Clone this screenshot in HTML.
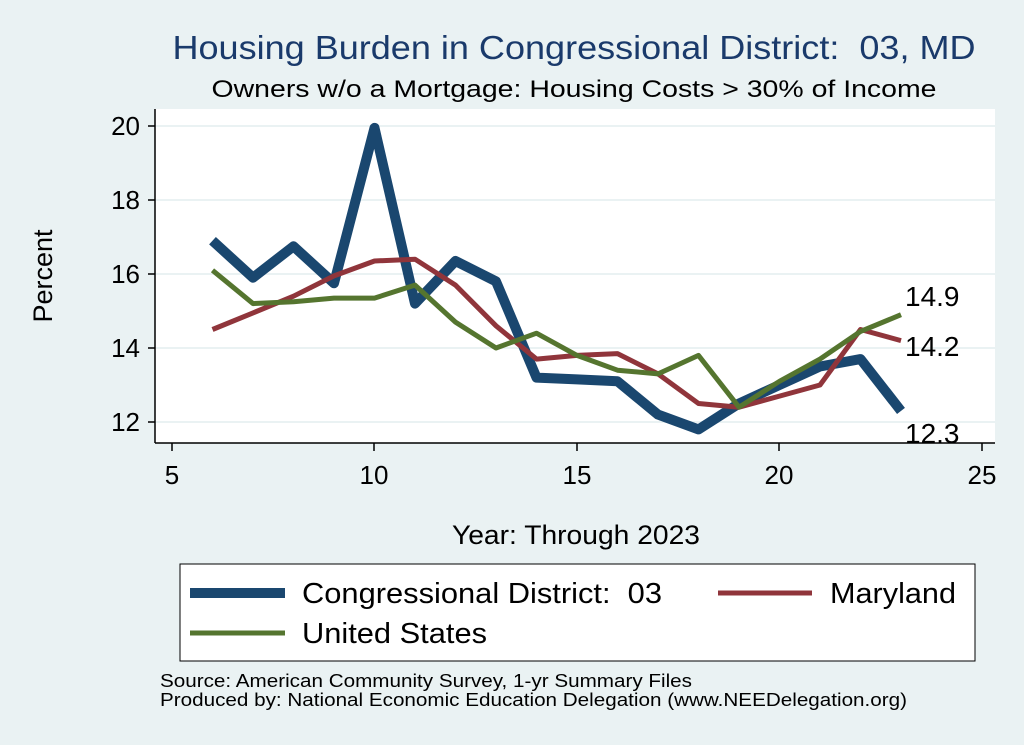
<!DOCTYPE html>
<html><head><style>
body{margin:0;background:#eaf2f3;}
svg{display:block;font-family:"Liberation Sans",Arial,sans-serif;}
</style></head><body>
<svg width="1024" height="745" viewBox="0 0 1024 745" xmlns="http://www.w3.org/2000/svg">
<rect width="1024" height="745" fill="#eaf2f3"/>
<text x="574" y="59" text-anchor="middle" font-size="33" textLength="803" lengthAdjust="spacingAndGlyphs" fill="#1a3a6b">Housing Burden in Congressional District:&#160; 03, MD</text>
<text x="574" y="97" text-anchor="middle" font-size="24" textLength="725" lengthAdjust="spacingAndGlyphs" fill="#000">Owners w/o a Mortgage: Housing Costs &gt; 30% of Income</text>
<rect x="155" y="109" width="840" height="334" fill="#fff"/>
<g stroke="#eaf2f3" stroke-width="2">
<line x1="155" x2="995" y1="126" y2="126"/><line x1="155" x2="995" y1="200" y2="200"/>
<line x1="155" x2="995" y1="274" y2="274"/><line x1="155" x2="995" y1="348" y2="348"/>
<line x1="155" x2="995" y1="422" y2="422"/></g>
<g stroke="#000" stroke-width="1.5">
<line x1="155" y1="109" x2="155" y2="443"/><line x1="155" y1="443" x2="995" y2="443"/>
<line x1="148" x2="155" y1="126" y2="126"/><line x1="148" x2="155" y1="200" y2="200"/>
<line x1="148" x2="155" y1="274" y2="274"/><line x1="148" x2="155" y1="348" y2="348"/>
<line x1="148" x2="155" y1="422" y2="422"/>
<line x1="172" x2="172" y1="443" y2="451"/><line x1="374" x2="374" y1="443" y2="451"/>
<line x1="577" x2="577" y1="443" y2="451"/><line x1="779" x2="779" y1="443" y2="451"/>
<line x1="982" x2="982" y1="443" y2="451"/></g>
<g font-size="26" text-anchor="end"><text x="140" y="135">20</text><text x="140" y="209">18</text><text x="140" y="283">16</text><text x="140" y="357">14</text><text x="140" y="431">12</text></g>
<g font-size="26" text-anchor="middle"><text x="172" y="484">5</text><text x="374" y="484">10</text><text x="577" y="484">15</text><text x="779" y="484">20</text><text x="982" y="484">25</text></g>
<text x="52" y="276" font-size="27" text-anchor="middle" transform="rotate(-90 52 276)">Percent</text>
<text x="576" y="544" font-size="27" textLength="248" lengthAdjust="spacingAndGlyphs" text-anchor="middle">Year: Through 2023</text>
<g id="series" fill="none" stroke-linejoin="round"></g>
<text x="905" y="306" font-size="28">14.9</text>
<text x="905" y="356" font-size="28">14.2</text>
<text x="905" y="443" font-size="28">12.3</text>
<rect x="180" y="564" width="795" height="97" fill="#fff" stroke="#000" stroke-width="1"/>
<line x1="190" x2="285" y1="593" y2="593" stroke="#1a476f" stroke-width="10"/>
<text x="302" y="603" font-size="28.5" textLength="360" lengthAdjust="spacingAndGlyphs">Congressional District:&#160; 03</text>
<line x1="718" x2="812" y1="593" y2="593" stroke="#90353b" stroke-width="5"/>
<text x="830" y="603" font-size="28.5" textLength="126" lengthAdjust="spacingAndGlyphs">Maryland</text>
<line x1="190" x2="285" y1="633" y2="633" stroke="#55752f" stroke-width="5"/>
<text x="302" y="643" font-size="28.5" textLength="185" lengthAdjust="spacingAndGlyphs">United States</text>
<text x="160" y="687" font-size="18.5" textLength="532" lengthAdjust="spacingAndGlyphs">Source: American Community Survey, 1-yr Summary Files</text>
<text x="160" y="706" font-size="18.5" textLength="747" lengthAdjust="spacingAndGlyphs">Produced by: National Economic Education Delegation (www.NEEDelegation.org)</text>
</svg>
<script>
var cd=[16.9,15.9,16.75,15.75,19.95,15.2,16.35,15.8,13.2,13.15,13.1,12.2,11.8,12.5,13.0,13.5,13.7,12.3];
var md=[14.5,14.95,15.4,15.95,16.35,16.4,15.7,14.6,13.7,13.8,13.85,13.3,12.5,12.4,12.7,13.0,14.5,14.2];
var us=[16.1,15.2,15.25,15.35,15.35,15.7,14.7,14.0,14.4,13.8,13.4,13.3,13.8,12.4,13.1,13.7,14.45,14.9];
function pts(a){return a.map(function(v,i){return (172+(i+1)*40.5).toFixed(1)+","+(126+(20-v)*37).toFixed(1)}).join(" ");}
var g=document.getElementById("series"),ns="http://www.w3.org/2000/svg";
[[cd,"#1a476f",10],[md,"#90353b",5],[us,"#55752f",5]].forEach(function(s){var p=document.createElementNS(ns,"polyline");p.setAttribute("points",pts(s[0]));p.setAttribute("stroke",s[1]);p.setAttribute("stroke-width",s[2]);g.appendChild(p);});
</script>
</body></html>
